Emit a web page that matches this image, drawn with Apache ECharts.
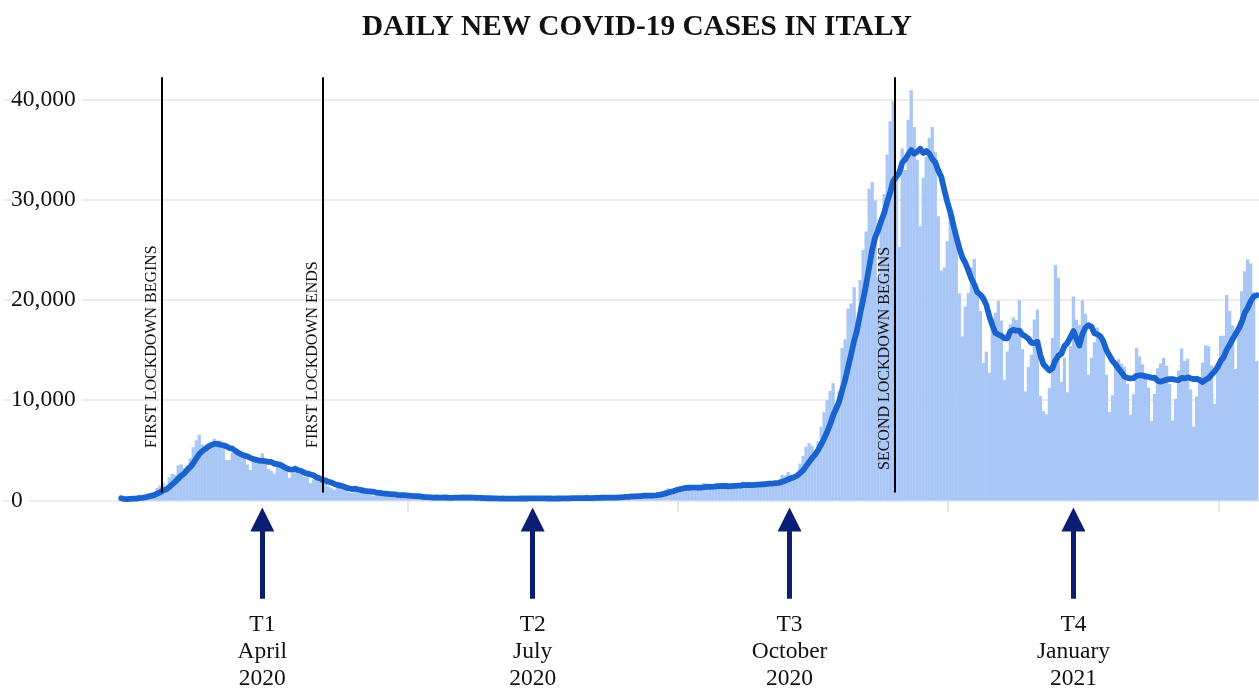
<!DOCTYPE html>
<html><head><meta charset="utf-8">
<script src="https://cdn.jsdelivr.net/npm/echarts@6/dist/echarts.min.js"></script>
<style>html,body{margin:0;padding:0;background:#fff}#chart{width:1259px;height:689px}</style>
</head><body><div id="chart"></div>
<script>
// ---- data ----
const startDate = '2020-02-24';
const dailyCases = [
221,93,78,250,238,240,
566,342,466,587,769,778,1247,1492,1797,977,2313,2651,2547,3497,3590,3233,3526,4207,5322,5986,6557,5560,4789,5249,5210,6153,5959,5974,5217,4050,4053,
4782,4668,4585,4805,4316,3599,3039,3836,4204,3951,4694,4092,3153,2972,2667,3786,3493,3491,3047,2256,2729,3370,2646,3021,2357,2324,1739,2091,2086,1872,
1965,1900,1389,1221,1075,1444,1401,1327,1083,802,744,1402,888,992,789,875,675,451,813,665,642,652,669,531,300,397,584,593,516,416,355,
178,318,321,177,518,270,197,280,283,202,379,163,346,338,301,210,329,333,251,262,224,218,122,190,296,259,175,174,126,142,
187,201,223,235,192,208,138,193,229,276,188,234,169,114,162,230,233,249,219,190,129,282,306,252,275,255,170,181,212,289,386,
379,295,239,159,190,384,402,552,347,463,259,412,481,523,574,629,479,320,403,642,845,947,1071,1210,953,878,1367,1411,1460,1444,1365,
996,975,1326,1397,1733,1695,1297,1108,1370,1434,1597,1616,1501,1458,1229,1452,1585,1907,1638,1587,1350,1392,1640,1786,1912,1869,1766,1494,1648,1851,
2548,2499,2844,2578,2257,2677,3678,4458,5372,5724,5456,4619,5901,7332,8804,10010,10925,11705,9338,10874,15199,16079,19143,19644,21273,17012,21994,24991,26831,31084,31758,
29907,22253,28244,30550,34505,37809,39811,32616,25271,35098,32961,37978,40902,37255,33979,27354,32191,34283,36176,37242,34767,28337,22930,23232,25853,29003,28352,26323,20648,16377,
19350,20709,23225,24099,21052,18887,13720,14842,12756,16999,18727,19903,17938,12030,14844,17572,18236,17992,19974,15104,10872,13318,14522,18040,19037,10407,8913,8585,11212,16202,23477,
22211,11831,14245,10800,15378,20331,18020,17533,19978,18627,12532,14242,15774,17246,16146,16310,12545,8824,10497,13571,14078,13633,13331,11629,8561,10593,15204,14372,13574,12715,11252,
7925,10630,13189,13659,14218,13442,11641,7970,10147,12956,15146,13908,14140,11068,7351,10386,12074,13762,15479,15370,13452,9630,13314,16424,16427,20499,18916,17455,
13114,17083,20884,22865,24036,23641,20765,13902
];
const sevenDayAvg = [
221,157,131,161,176,187,241,258,311,384,458,535,679,812,1019,1092,1339,1608,1861,2182,2482,2687,3051,3322,3703,4194,4632,4913,5135,5381,5525,5643,5640,5556,5507,5402,5231,
5170,4958,4761,4594,4466,4401,4256,4121,4055,3964,3948,3916,3853,3843,3676,3616,3551,3379,3230,3102,3067,3167,3005,2937,2775,2672,2598,2507,2323,2213,
2062,1997,1863,1789,1644,1552,1485,1394,1277,1193,1125,1172,1092,1034,957,927,909,867,783,751,701,682,652,632,610,551,539,532,513,477,452,
434,423,385,326,326,305,283,297,292,275,304,253,264,284,287,277,295,289,301,289,273,261,248,229,223,224,212,205,192,195,
194,181,175,184,187,198,198,199,203,210,203,209,204,200,196,196,190,199,197,200,202,219,230,232,236,241,238,246,236,233,253,
267,273,283,280,277,290,293,317,325,357,371,403,417,434,437,477,480,488,487,510,556,609,672,777,867,935,1039,1120,1193,1246,1268,
1274,1288,1282,1280,1319,1355,1346,1362,1418,1433,1462,1445,1418,1441,1458,1470,1491,1535,1539,1551,1535,1559,1586,1614,1615,1648,1674,1694,1731,1761,
1870,1954,2093,2209,2318,2465,2726,2999,3409,3821,4232,4569,5030,5552,6173,6835,7578,8471,9145,9855,10979,12019,13323,14569,15936,17032,18621,20019,21555,23261,24992,
26225,26974,27867,28661,29757,30718,31868,32255,32687,33666,34010,34506,34948,34583,34778,35075,34660,34849,34591,34069,33713,32907,32275,30995,29791,28766,27496,26290,25192,24255,
23701,22966,22141,21533,20780,20528,20149,19505,18369,17479,16712,16548,16412,16171,16171,16859,17036,16931,16941,16536,16371,16153,15717,15689,15838,14471,13587,13260,12959,13199,13976,
14430,14633,15395,15711,16306,16896,16117,15448,16612,17238,17486,17323,16672,16562,16364,15840,14971,14441,13906,13591,13139,12780,12354,12223,12186,12199,12433,12475,12466,12378,12324,
12234,12239,11951,11849,11941,12045,12101,12107,12038,12005,12217,12173,12273,12191,12102,12136,12010,11813,12037,12213,12553,12879,13297,13919,14299,15017,15523,16095,
16593,17131,17768,18688,19193,19868,20341,20454
];
const lockdownDates = ['2020-03-08 12:00', '2020-05-01 00:00', '2020-11-07 09:00'];
const lockdownLabels = ['FIRST LOCKDOWN BEGINS', 'FIRST LOCKDOWN ENDS', 'SECOND LOCKDOWN BEGINS'];
const waveDates = ['2020-04-11 00:00', '2020-07-10 00:00', '2020-10-03 12:00', '2021-01-06 00:00'];
const waveLabels = ['T1\nApril\n2020', 'T2\nJuly\n2020', 'T3\nOctober\n2020', 'T4\nJanuary\n2021'];
const xTickDates = ['2020-05-29 06:00', '2020-08-27 06:00', '2020-11-25 06:00', '2021-02-23 06:00'];
const yTickValues = [0, 10000, 20000, 30000, 40000];
const chartTitle = 'DAILY NEW COVID-19 CASES IN ITALY';

// ---- helpers ----
const DAY = 86400000;
function toTime(s) {
  const parts = s.split(' ');
  const d = parts[0].split('-').map(Number);
  const h = parts[1] ? Number(parts[1].split(':')[0]) : 0;
  return new Date(d[0], d[1] - 1, d[2], h).getTime();
}
const t0 = toTime(startDate);
const dates = dailyCases.map((_, i) => new Date(2020, 1, 24 + i).getTime());
const barData = dailyCases.map((v, i) => [dates[i], v]);
const lineData = sevenDayAvg.map((v, i) => [dates[i], v]);
function fmt(v) { return String(v).replace(/\B(?=(\d{3})+(?!\d))/g, ','); }

const SERIF = "'Liberation Serif', 'Times New Roman', serif";
const lockLabelY = [5240, 5240, 3040];

const option = {
  animation: false,
  backgroundColor: '#ffffff',
  title: {
    text: chartTitle, left: 632, top: 8, textAlign: 'center',
    textStyle: { fontFamily: SERIF, fontWeight: 'bold', fontSize: 29.3, color: '#111' }
  },
  grid: { left: 3, right: 0, top: 77.3, bottom: 88.25, containLabel: false },
  xAxis: {
    type: 'time',
    min: t0 - 38.78 * DAY,
    max: t0 + 378.22 * DAY,
    axisLine: { show: false },
    axisTick: { show: true, length: 11, lineStyle: { color: '#e6e6e6', width: 2 },
                customValues: xTickDates.map(toTime) },
    axisLabel: { show: false },
    splitLine: { show: false }
  },
  yAxis: {
    type: 'value', min: -10000, max: 42200, interval: 10000,
    axisLine: { show: false }, axisTick: { show: false },
    axisLabel: {
      inside: true, margin: 8,
      formatter: v => (yTickValues.indexOf(v) >= 0 ? fmt(v) : ''),
      fontFamily: SERIF, fontSize: 23.5, color: '#111',
      backgroundColor: '#ffffff', padding: [5, 6, 0, 0]
    },
    splitLine: { show: true, showMinLine: false, showMaxLine: false,
                 lineStyle: { color: '#ececec', width: 2 } }
  },
  series: [
    {
      name: 'Daily cases', type: 'bar', data: barData, barWidth: 3.3, z: 2,
      itemStyle: { color: '#a9c7f6' },
      markLine: {
        silent: true, symbol: ['none', 'none'],
        lineStyle: { color: '#000', width: 2, type: 'solid' },
        label: { show: false },
        data: lockdownDates.map(d => [{ coord: [toTime(d), 800] }, { coord: [toTime(d), 42200] }])
      },
      markPoint: {
        silent: true, symbol: 'rect', symbolSize: 0,
        data: lockdownDates.map((d, k) => ({
          coord: [toTime(d), lockLabelY[k]], name: lockdownLabels[k],
          label: {
            show: true, formatter: '{b}', position: [0, 0], rotate: 90,
            align: 'left', verticalAlign: 'bottom', offset: [0, -2],
            fontFamily: SERIF, fontSize: 16, color: '#111'
          }
        }))
      }
    },
    {
      name: '7-day average', type: 'line', data: lineData, z: 3,
      showSymbol: false, symbol: 'none',
      lineStyle: { color: '#1a63cf', width: 5.8, cap: 'round', join: 'round' },
      markLine: {
        silent: true, symbol: ['none', 'triangle'], symbolSize: 24,
        lineStyle: { color: '#0b1e73', width: 5, type: 'solid' },
        itemStyle: { color: '#0b1e73' },
        label: {
          show: true, position: 'start', distance: 13,
          formatter: p => waveLabels[p.dataIndex],
          fontFamily: SERIF, fontSize: 23.5, lineHeight: 26.7, color: '#111'
        },
        data: waveDates.map(d => [{ coord: [toTime(d), -9800] }, { coord: [toTime(d), -1900] }])
      }
    }
  ]
};
const chart = echarts.init(document.getElementById('chart'), null, { renderer: 'canvas' });
chart.setOption(option);
</script>
</body></html>
